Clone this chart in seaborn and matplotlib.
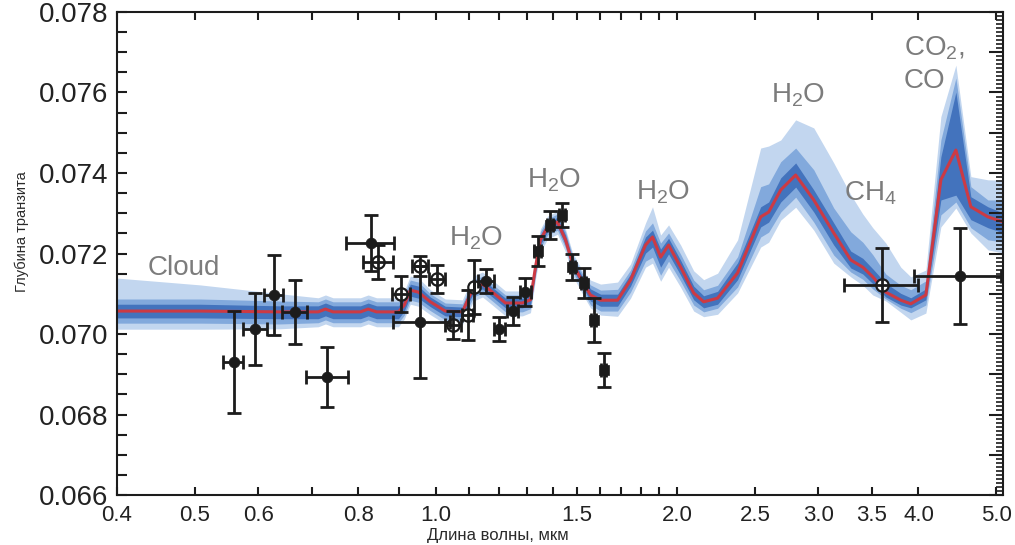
import numpy as np
import pandas as pd
import matplotlib
matplotlib.use("Agg")
import matplotlib.pyplot as plt
import seaborn as sns
from matplotlib.ticker import FixedLocator, FixedFormatter, MultipleLocator, NullFormatter, FormatStrFormatter

SCALE = 1e-3  # model values below are in units of 1e-3 transit depth

# ---- model spectrum (wavelength in micron, depth in 1e-3) ----
model_wl = [0.400, 0.508, 0.639, 0.713, 0.728, 0.744, 0.805, 0.823, 0.843, 0.898,
            0.913, 0.929, 0.951, 0.984, 1.027, 1.079, 1.098, 1.114, 1.143, 1.176,
            1.221, 1.282, 1.312, 1.331, 1.350, 1.378, 1.418, 1.451, 1.480, 1.524,
            1.559, 1.605, 1.685, 1.749, 1.826, 1.863, 1.907, 1.951, 2.020, 2.097,
            2.158, 2.246, 2.379, 2.542, 2.601, 2.693, 2.811, 2.961, 3.136, 3.293,
            3.409, 3.508, 3.642, 3.802, 3.913, 4.086, 4.266, 4.454, 4.650, 4.884, 5.114]
model_depth = [70.57, 70.57, 70.55, 70.55, 70.62, 70.55, 70.55, 70.62, 70.55, 70.55,
               70.72, 71.09, 71.04, 70.80, 70.57, 70.55, 70.89, 71.14, 71.24, 71.04,
               70.77, 70.77, 70.85, 71.66, 72.34, 72.66, 72.78, 72.34, 71.76, 71.29,
               70.97, 70.84, 70.84, 71.34, 72.21, 72.41, 71.91, 72.21, 71.66, 71.02,
               70.80, 70.89, 71.52, 72.91, 73.03, 73.58, 73.95, 73.33, 72.51, 71.84,
               71.66, 71.42, 71.04, 70.84, 70.75, 70.97, 73.83, 74.57, 73.16, 72.91, 72.78]
# band extents above / below the model (1e-3): 1 = dark, 2 = medium, 3 = light
up1 = [.17, .17, .15, .15, .15, .15, .15, .15, .15, .15,
       .15, .15, .15, .12, .12, .12, .12, .12, .12, .12,
       .12, .12, .12, .12, .12, .12, .12, .12, .12, .12,
       .15, .15, .15, .15, .20, .17, .20, .17, .17, .17,
       .15, .17, .25, .25, .25, .30, .30, .25, .25, .22,
       .22, .20, .22, .17, .15, .15, .57, 1.44, .25, .25, .22]
dn1 = [.17, .17, .17, .17, .17, .17, .17, .17, .17, .17,
       .15, .15, .15, .12, .12, .12, .12, .12, .12, .12,
       .12, .12, .12, .12, .12, .12, .12, .12, .12, .12,
       .15, .15, .15, .15, .20, .25, .25, .22, .20, .17,
       .15, .15, .17, .25, .25, .30, .30, .30, .30, .20,
       .17, .17, .12, .12, .10, .12, .50, 1.12, .32, .27, .27]
up2 = [.30, .30, .27, .25, .25, .25, .25, .25, .25, .25,
       .25, .25, .25, .20, .20, .20, .20, .20, .20, .20,
       .20, .20, .20, .20, .20, .20, .20, .20, .20, .20,
       .25, .25, .27, .25, .35, .35, .35, .30, .32, .32,
       .30, .32, .40, .75, .70, .70, .67, .75, .62, .70,
       .62, .55, .45, .37, .35, .35, .99, 1.79, .50, .42, .55]
dn2 = [.30, .30, .30, .27, .27, .27, .27, .27, .27, .27,
       .25, .25, .25, .22, .22, .22, .22, .22, .22, .22,
       .22, .22, .22, .20, .20, .20, .20, .20, .20, .20,
       .25, .27, .27, .30, .40, .50, .45, .40, .35, .30,
       .25, .25, .35, .50, .50, .55, .55, .55, .55, .30,
       .30, .30, .17, .20, .22, .25, .87, 1.29, .52, .57, .50]
up3 = [.82, .65, .45, .35, .35, .35, .35, .35, .35, .35,
       .35, .35, .35, .30, .30, .30, .30, .30, .30, .30,
       .30, .30, .30, .27, .27, .27, .27, .27, .27, .27,
       .37, .40, .45, .40, .55, .75, .55, .50, .55, .55,
       .55, .62, .82, 1.71, 1.64, 1.24, 1.37, 1.79, 1.74, 1.62,
       1.32, 1.22, 1.22, .82, .67, .62, 1.57, 2.11, .75, .92, 1.04]
dn3 = [.45, .45, .42, .37, .37, .37, .37, .37, .37, .37,
       .35, .35, .35, .32, .32, .32, .32, .32, .32, .32,
       .32, .32, .32, .30, .30, .30, .30, .30, .30, .30,
       .32, .37, .40, .45, .55, .65, .60, .55, .50, .45,
       .37, .40, .50, .75, .75, .75, .80, .75, .75, .42,
       .45, .45, .22, .30, .40, .45, 1.17, 1.44, .65, .82, .77]

# ---- observations ----
# filled circles
fc_wl = [0.559, 0.595, 0.628, 0.667, 0.732, 0.830, 0.956, 1.156, 1.200, 1.246, 1.293, 4.51]
fc_depth = [0.06930, 0.07012, 0.07097, 0.07055, 0.06893, 0.07226, 0.07030,
            0.07132, 0.07012, 0.07057, 0.07104, 0.07144]
fc_yerr = [0.00127, 0.00089, 0.00099, 0.00080, 0.00075, 0.00070, 0.00139,
           0.00030, 0.00030, 0.00035, 0.00035, 0.00119]
fc_xlo = [0.016, 0.021, 0.017, 0.024, 0.044, 0.057, 0.071, 0.027, 0.020, 0.020, 0.020, 0.56]
fc_xhi = [0.016, 0.021, 0.017, 0.024, 0.044, 0.057, 0.086, 0.027, 0.020, 0.020, 0.020, 0.56]
# filled squares
fs_wl = [1.339, 1.386, 1.438, 1.480, 1.528, 1.573, 1.619]
fs_depth = [0.07206, 0.07271, 0.07296, 0.07167, 0.07127, 0.07035, 0.06911]
fs_yerr = [0.00037, 0.00035, 0.00030, 0.00032, 0.00037, 0.00055, 0.00042]
fs_xerr = [0.012, 0.012, 0.012, 0.012, 0.012, 0.012, 0.012]
# open circles
oc_wl = [0.847, 0.905, 0.956, 1.004, 1.051, 1.095, 1.114, 3.60]
oc_depth = [0.07179, 0.07099, 0.07169, 0.07137, 0.07022, 0.07047, 0.07117, 0.07122]
oc_yerr = [0.00042, 0.00045, 0.00025, 0.00035, 0.00035, 0.00062, 0.00067, 0.00092]
oc_xlo = [0.037, 0.024, 0.022, 0.023, 0.024, 0.016, 0.0, 0.37]
oc_xhi = [0.037, 0.024, 0.022, 0.023, 0.024, 0.016, 0.0, 0.39]

# ---- axis ticks and labels ----
xticks_major = [0.4, 0.5, 0.6, 0.8, 1.0, 1.5, 2.0, 2.5, 3.0, 3.5, 4.0, 5.0]
xtick_labels = ["0.4", "0.5", "0.6", "0.8", "1.0", "1.5", "2.0", "2.5", "3.0", "3.5", "4.0", "5.0"]
xticks_minor = [0.7, 0.9, 1.1, 1.2, 1.3, 1.4, 1.6, 1.7, 1.8, 1.9]

annotations = [
    ("Cloud", 0.485, 0.07164, "center"),
    ("H$_2$O", 1.123, 0.07239, "center"),
    ("H$_2$O", 1.406, 0.07383, "center"),
    ("H$_2$O", 1.918, 0.07353, "center"),
    ("H$_2$O", 2.827, 0.07594, "center"),
    ("CH$_4$", 3.488, 0.07350, "center"),
    ("CO$_2$,", 3.835, 0.07711, "left"),
    ("CO", 3.835, 0.07629, "left"),
]

# ---- style ----
sns.set_theme(style="white")
plt.rcParams['font.family'] = ['Liberation Sans', 'DejaVu Sans']
plt.rcParams['mathtext.fontset'] = 'custom'
plt.rcParams['mathtext.rm'] = 'Liberation Sans'
plt.rcParams['mathtext.it'] = 'Liberation Sans:italic'
plt.rcParams['mathtext.default'] = 'regular'

LIGHT, MED, DARK = "#c2d6ef", "#82a9dc", "#4373bd"
RED = "#cc3a44"
INK = "#1c1c1c"
GRAY = "#7c7c7c"

fig = plt.figure(figsize=(10.15, 5.45), dpi=100)
ax = fig.add_axes([0.1153, 0.0917, 0.8729, 0.8863])
ax.set_xscale('log')

m = pd.DataFrame({"wl": model_wl, "depth": np.array(model_depth) * SCALE})
d = np.array(model_depth)
ax.fill_between(model_wl, (d - np.array(dn3)) * SCALE, (d + np.array(up3)) * SCALE,
                color=LIGHT, lw=0, zorder=1)
ax.fill_between(model_wl, (d - np.array(dn2)) * SCALE, (d + np.array(up2)) * SCALE,
                color=MED, lw=0, zorder=1.1)
ax.fill_between(model_wl, (d - np.array(dn1)) * SCALE, (d + np.array(up1)) * SCALE,
                color=DARK, lw=0, zorder=1.2)
sns.lineplot(data=m, x="wl", y="depth", color=RED, lw=2.2, sort=False, ax=ax, zorder=2)

# open circles (white fill so the error cross shows through on top)
sns.scatterplot(x=oc_wl, y=oc_depth, marker='o', s=80, color='white',
                edgecolor=INK, linewidth=1.6, ax=ax, zorder=4)
ax.errorbar(oc_wl, oc_depth, yerr=oc_yerr, xerr=[oc_xlo, oc_xhi], fmt='none',
            ecolor=INK, elinewidth=2.0, capsize=5, capthick=2.0, zorder=5)
ax.errorbar(fc_wl, fc_depth, yerr=fc_yerr, xerr=[fc_xlo, fc_xhi], fmt='none',
            ecolor=INK, elinewidth=2.0, capsize=5, capthick=2.0, zorder=5)
ax.errorbar(fs_wl, fs_depth, yerr=fs_yerr, xerr=fs_xerr, fmt='none',
            ecolor=INK, elinewidth=2.0, capsize=5, capthick=2.0, zorder=5)
sns.scatterplot(x=fc_wl, y=fc_depth, marker='o', s=60, color=INK,
                edgecolor=INK, linewidth=0.5, ax=ax, zorder=6)
sns.scatterplot(x=fs_wl, y=fs_depth, marker='s', s=55, color=INK,
                edgecolor=INK, linewidth=0.5, ax=ax, zorder=6)

for txt, x, y, ha in annotations:
    ax.text(x, y, txt, ha=ha, va='center', fontsize=20, color=GRAY, zorder=7)

ax.set_xlim(0.4, 5.1)
ax.set_ylim(0.066, 0.078)

ax.xaxis.set_major_locator(FixedLocator(xticks_major))
ax.xaxis.set_major_formatter(FixedFormatter(xtick_labels))
ax.xaxis.set_minor_locator(FixedLocator(xticks_minor))
ax.xaxis.set_minor_formatter(NullFormatter())
ax.yaxis.set_major_locator(MultipleLocator(0.002))
ax.yaxis.set_minor_locator(MultipleLocator(0.0005))
ax.yaxis.set_major_formatter(FormatStrFormatter('%.3f'))

ax.tick_params(axis='x', which='both', direction='in', top=True, bottom=True,
               length=6, width=1.5, color=INK, labelsize=16, pad=7, labelcolor="#222222")
ax.tick_params(axis='y', which='both', direction='in', left=True, right=False,
               length=7, width=1.5, color=INK, labelsize=20, pad=6, labelcolor="#222222")
for s in ax.spines.values():
    s.set_color(INK)
    s.set_linewidth(1.5)

# dense comb of ticks on the right side
ax2 = ax.twinx()
ax2.set_ylim(0.066, 0.078)
ax2.yaxis.set_major_locator(MultipleLocator(0.001))
ax2.yaxis.set_minor_locator(MultipleLocator(0.0001))
ax2.yaxis.set_major_formatter(NullFormatter())
ax2.tick_params(axis='y', which='major', direction='in', length=10, width=1.5, color=INK)
ax2.tick_params(axis='y', which='minor', direction='in', length=5, width=1.2, color=INK)
for s in ax2.spines.values():
    s.set_visible(False)
ax2.grid(False)
ax.grid(False)

ax.set_xlabel("")
ax.set_ylabel("")
fig.text(0.49, 0.017, "Длина волны, мкм", ha='center', va='center', fontsize=12, color="#2a2a2a")
fig.text(0.021, 0.575, "Глубина транзита", ha='center', va='center', rotation=90,
         fontsize=10.5, color="#2a2a2a")

fig.savefig("out.png", dpi=100)
